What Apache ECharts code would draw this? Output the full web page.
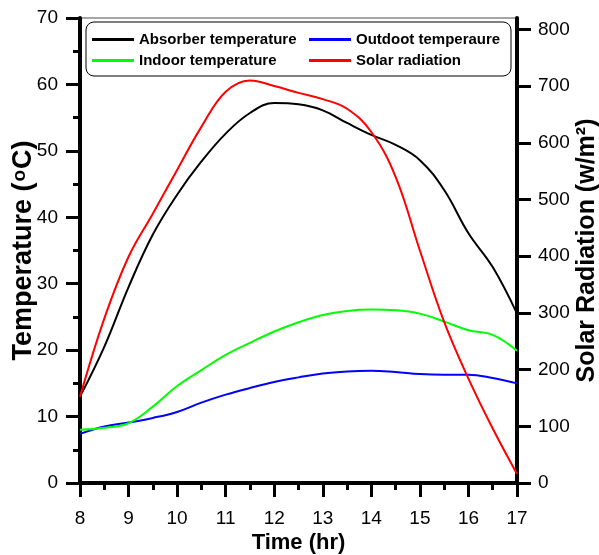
<!DOCTYPE html>
<html>
<head>
<meta charset="utf-8">
<script src="https://cdn.jsdelivr.net/npm/echarts@6/dist/echarts.min.js"></script>
<style>
  html, body { margin: 0; padding: 0; background: #fff; }
  #chartDom { width: 599px; height: 555px; }
</style>
</head>
<body>
<div id="chartDom"></div>
<script>
// time in hours, every half hour
var hours = [8, 8.5, 9, 9.5, 10, 10.5, 11, 11.5, 12, 12.5, 13, 13.5, 14, 14.5, 15, 15.5, 16, 16.5, 17];

var absorberTemp = [13.0, 20.5, 29.5, 37.4, 43.4, 48.4, 52.6, 55.7, 57.2, 57.0, 56.1, 54.2, 52.4, 50.9, 48.6, 44.1, 37.6, 32.5, 25.5];
var outdoorTemp  = [7.4, 8.5, 9.1, 9.8, 10.7, 12.1, 13.3, 14.3, 15.2, 15.9, 16.5, 16.8, 16.9, 16.7, 16.4, 16.3, 16.3, 15.8, 15.0];
var indoorTemp   = [8.0, 8.3, 9.0, 11.5, 14.6, 17.0, 19.3, 21.1, 22.8, 24.2, 25.3, 25.9, 26.1, 26.0, 25.5, 24.3, 23.0, 22.3, 19.9];
var solarRad     = [152, 290, 399, 475, 552, 628, 690, 710, 700, 688, 677, 660, 619, 540, 410, 284, 184, 96, 16];

var radTicks = [0, 100, 200, 300, 400, 500, 600, 700, 800];

function pairs(ys) {
    return hours.map(function (h, i) { return [h, ys[i]]; });
}

var font = 'Arial, "Liberation Sans", sans-serif';
var legendText = { fontFamily: font, fontWeight: 'bold', fontSize: 15, color: '#000', lineHeight: 14 };

var myChart = echarts.init(document.getElementById('chartDom'));

var option = {
    animation: false,
    backgroundColor: '#fff',
    textStyle: { fontFamily: font },
    grid: {
        left: 80, right: 82, top: 18, bottom: 72,
        outerBoundsMode: 'none', containLabel: false,
        show: true, borderColor: '#888', borderWidth: 1.5, backgroundColor: 'transparent'
    },
    graphic: [{
        type: 'rect',
        shape: { x: 86, y: 22, width: 425, height: 54, r: 8 },
        style: { fill: '#fff', stroke: '#000', lineWidth: 1 },
        z: 0
    }],
    legend: [{
        orient: 'vertical', left: 92, top: 32, padding: 0, icon: 'rect',
        itemWidth: 42, itemHeight: 3, itemGap: 6,
        data: ['Absorber temperature', 'Indoor temperature'],
        textStyle: legendText
    }, {
        orient: 'vertical', left: 309, top: 32, padding: 0, icon: 'rect',
        itemWidth: 42, itemHeight: 3, itemGap: 6,
        data: ['Outdoot temperaure', 'Solar radiation'],
        textStyle: legendText
    }],
    xAxis: {
        type: 'value', min: 8, max: 17, interval: 1,
        name: 'Time (hr)', nameLocation: 'middle', nameGap: 49, nameMoveOverlap: false,
        nameTextStyle: { fontFamily: font, fontWeight: 'bold', fontSize: 22, color: '#000' },
        axisLine: { lineStyle: { color: '#000', width: 4 } },
        axisTick: { length: 14, lineStyle: { color: '#000', width: 3 } },
        minorTick: { show: true, splitNumber: 2, length: 7, lineStyle: { color: '#000', width: 3 } },
        splitLine: { show: false },
        axisLabel: { margin: 26, fontSize: 19, color: '#000', fontFamily: font }
    },
    yAxis: [{
        type: 'value', min: 0, max: 70, interval: 10, position: 'left',
        name: '{a|Temperature (}{s|o}{a|C)}', nameLocation: 'middle', nameRotate: 90,
        nameGap: 43, nameMoveOverlap: false,
        nameTextStyle: {
            rich: {
                a: { fontFamily: font, fontWeight: 'bold', fontSize: 27, color: '#000' },
                s: { fontFamily: font, fontWeight: 'bold', fontSize: 19, color: '#000', verticalAlign: 'top', padding: [0, 1, 8, 1] }
            }
        },
        axisLine: { show: true, lineStyle: { color: '#000', width: 4 } },
        axisTick: { show: true, length: 14, lineStyle: { color: '#000', width: 3 } },
        minorTick: { show: true, splitNumber: 2, length: 7, lineStyle: { color: '#000', width: 3 } },
        splitLine: { show: false },
        axisLabel: { margin: 22, fontSize: 19, color: '#000', fontFamily: font }
    }, {
        type: 'value', min: 0, max: 820, position: 'right',
        name: 'Solar Radiation (w/m²)', nameLocation: 'middle', nameRotate: 90,
        nameGap: 58, nameMoveOverlap: false,
        nameTextStyle: { fontFamily: font, fontWeight: 'bold', fontSize: 25, color: '#000' },
        axisLine: { show: true, lineStyle: { color: '#000', width: 4 } },
        axisTick: { show: true, length: 14, customValues: radTicks, lineStyle: { color: '#000', width: 3 } },
        splitLine: { show: false },
        axisLabel: { margin: 21, fontSize: 19, color: '#000', fontFamily: font, customValues: radTicks }
    }],
    series: [{
        name: 'Absorber temperature', type: 'line', yAxisIndex: 0, data: pairs(absorberTemp),
        smooth: 0.4, showSymbol: false, color: '#000', lineStyle: { width: 2 }, z: 3
    }, {
        name: 'Outdoot temperaure', type: 'line', yAxisIndex: 0, data: pairs(outdoorTemp),
        smooth: 0.4, showSymbol: false, color: '#0000ff', lineStyle: { width: 2 }, z: 3
    }, {
        name: 'Indoor temperature', type: 'line', yAxisIndex: 0, data: pairs(indoorTemp),
        smooth: 0.4, showSymbol: false, color: '#00ff00', lineStyle: { width: 2 }, z: 3
    }, {
        name: 'Solar radiation', type: 'line', yAxisIndex: 1, data: pairs(solarRad),
        smooth: 0.4, showSymbol: false, color: '#ff0000', lineStyle: { width: 2 }, z: 3
    }]
};

myChart.setOption(option);
</script>
</body>
</html>
